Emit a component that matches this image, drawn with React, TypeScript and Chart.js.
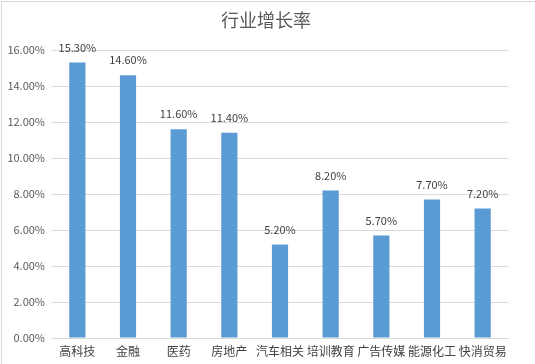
import React, { useEffect, useRef } from "react";
import { Chart, registerables } from "chart.js";

Chart.register(...registerables);

const title = "行业增长率";
const categories = ["高科技", "金融", "医药", "房地产", "汽车相关", "培训教育", "广告传媒", "能源化工", "快消贸易"];
const growthRates = [15.3, 14.6, 11.6, 11.4, 5.2, 8.2, 5.7, 7.7, 7.2];
const yMin = 0;
const yMax = 16;
const yStep = 2;

const FONT = "'Noto Sans CJK SC', 'Noto Sans', sans-serif";

const decorPlugin = {
  id: "decor",
  beforeDraw(chart: any) {
    const ctx = chart.ctx;
    ctx.save();
    ctx.fillStyle = "#ffffff";
    ctx.fillRect(0, 0, chart.width, chart.height);
    ctx.strokeStyle = "#d9d9d9";
    ctx.lineWidth = 1;
    ctx.beginPath();
    ctx.moveTo(1.5, chart.height);
    ctx.lineTo(1.5, 1.5);
    ctx.lineTo(chart.width, 1.5);
    ctx.stroke();
    ctx.fillStyle = "#595959";
    ctx.font = `18px ${FONT}`;
    ctx.textAlign = "center";
    ctx.textBaseline = "middle";
    ctx.fillText(title, 266, 20);
    ctx.restore();
  },
  afterDatasetsDraw(chart: any) {
    const ctx = chart.ctx;
    const meta = chart.getDatasetMeta(0);
    ctx.save();
    ctx.fillStyle = "#404040";
    ctx.font = `11px ${FONT}`;
    ctx.textAlign = "center";
    ctx.textBaseline = "middle";
    meta.data.forEach((bar: any, i: number) => {
      ctx.fillText(growthRates[i].toFixed(2) + "%", bar.x, bar.y - 15);
    });
    ctx.restore();
  },
};

export default function App() {
  const ref = useRef<HTMLCanvasElement>(null);
  useEffect(() => {
    document.body.style.margin = "0";
    const chart = new Chart(ref.current!, {
      type: "bar",
      data: {
        labels: categories,
        datasets: [
          {
            data: growthRates,
            backgroundColor: "#5b9bd5",
            categoryPercentage: 1,
            barPercentage: 0.32,
          },
        ],
      },
      options: {
        responsive: false,
        animation: false,
        devicePixelRatio: 1,
        layout: { padding: { top: 50, right: 27, bottom: 0, left: 0 } },
        plugins: { legend: { display: false }, tooltip: { enabled: false }, title: { display: false } },
        scales: {
          x: {
            grid: { display: false, drawTicks: false },
            border: { color: "#d9d9d9" },
            ticks: { color: "#404040", font: { family: FONT, size: 12 }, padding: 6, maxRotation: 0, autoSkip: false },
            afterFit: (s: any) => {
              s.height = 26;
            },
          },
          y: {
            min: yMin,
            max: yMax,
            grid: { color: "#d9d9d9", drawTicks: false },
            border: { display: false },
            ticks: {
              stepSize: yStep,
              color: "#595959",
              font: { family: FONT, size: 11 },
              padding: 7,
              callback: (v: any) => Number(v).toFixed(2) + "%",
            },
            afterFit: (s: any) => {
              s.width = 52;
            },
          },
        },
      },
      plugins: [decorPlugin],
    });
    return () => chart.destroy();
  }, []);
  return <canvas ref={ref} width={535} height={364} style={{ display: "block" }} />;
}
